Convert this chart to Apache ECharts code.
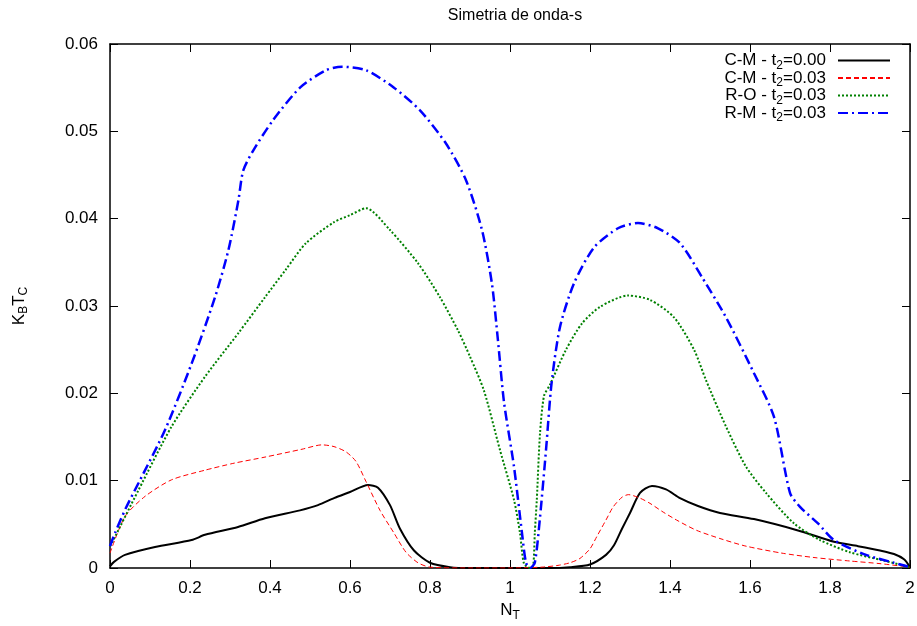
<!DOCTYPE html>
<html>
<head>
<meta charset="utf-8">
<script src="https://cdn.jsdelivr.net/npm/echarts@6/dist/echarts.min.js"></script>
<style>
html,body{margin:0;padding:0;background:#fff;}
#c{width:917px;height:626px;}
</style>
</head>
<body>
<div id="c"></div>
<script>
var titleText = 'Simetria de onda-s';
var xTickLabels = ['0','0.2','0.4','0.6','0.8','1','1.2','1.4','1.6','1.8','2'];
var yTickLabels = ['0','0.01','0.02','0.03','0.04','0.05','0.06'];
var seriesNames = ['C-M - t2=0.00','C-M - t2=0.03','R-O - t2=0.03','R-M - t2=0.03'];

var cm000 = [[0,0.0002],[0.01,0.0007],[0.0375,0.0015],[0.1125,0.0024],[0.204,0.0032],[0.2375,0.0038],[0.32,0.0047],[0.3875,0.0057],[0.475,0.0066],[0.52,0.0072],[0.56,0.008],[0.6,0.0087],[0.645,0.0095],[0.67,0.0092],[0.70,0.0072],[0.725,0.0045],[0.76,0.002],[0.80,0.0006],[0.85,0.0001],[0.9,0],[1.0,0],[1.1,0],[1.15,0.0001],[1.2,0.0004],[1.24,0.0015],[1.26,0.0026],[1.28,0.0045],[1.3,0.0063],[1.325,0.0086],[1.355,0.0094],[1.39,0.009],[1.425,0.0080],[1.47,0.0071],[1.525,0.0063],[1.61,0.0056],[1.72,0.0043],[1.81,0.003],[1.87,0.0025],[1.925,0.002],[1.96,0.0016],[1.985,0.001],[2.0,0.0001]];

var cm003 = [[0,0.0017],[0.0375,0.0059],[0.0875,0.0082],[0.154,0.0101],[0.2375,0.0112],[0.31,0.012],[0.3875,0.0127],[0.48,0.0136],[0.53,0.0141],[0.56,0.0139],[0.59,0.0133],[0.615,0.0122],[0.64,0.0099],[0.675,0.0066],[0.71,0.004],[0.74,0.0018],[0.77,0.0006],[0.8,0.0001],[0.9,0],[1.0,0],[1.08,0.0001],[1.12,0.0003],[1.15,0.0006],[1.175,0.0011],[1.2,0.0022],[1.217,0.0036],[1.24,0.0055],[1.258,0.007],[1.28,0.0081],[1.296,0.0084],[1.325,0.008],[1.35,0.0074],[1.383,0.0064],[1.42,0.0054],[1.467,0.0043],[1.53,0.0033],[1.59,0.0025],[1.68,0.0017],[1.76,0.0012],[1.85,0.0008],[1.925,0.0005],[2.0,0.0001]];

var ro003 = [[0,0.0025],[0.004,0.0028],[0.071,0.0089],[0.154,0.0162],[0.2375,0.0219],[0.321,0.0269],[0.3875,0.031],[0.44,0.0342],[0.49,0.0372],[0.56,0.0396],[0.6,0.0404],[0.64,0.0412],[0.7,0.0387],[0.77,0.0349],[0.825,0.031],[0.87,0.0272],[0.9,0.0242],[0.935,0.0203],[0.975,0.0135],[1.01,0.0078],[1.025,0.004],[1.035,0.0005],[1.05,0],[1.058,0.0003],[1.062,0.004],[1.067,0.0078],[1.075,0.0154],[1.085,0.0197],[1.1,0.021],[1.14,0.025],[1.18,0.028],[1.225,0.0299],[1.295,0.0312],[1.35,0.0307],[1.41,0.0287],[1.46,0.025],[1.49,0.0215],[1.54,0.0162],[1.59,0.0116],[1.64,0.0086],[1.71,0.0051],[1.775,0.0032],[1.85,0.0018],[1.93,0.0009],[2.0,0.0001]];

var rm003 = [[0,0.0025],[0.0125,0.004],[0.04,0.0069],[0.071,0.0097],[0.1375,0.0158],[0.204,0.0234],[0.2625,0.031],[0.296,0.0364],[0.321,0.0421],[0.333,0.0455],[0.358,0.0478],[0.408,0.0513],[0.475,0.055],[0.54,0.057],[0.58,0.0574],[0.64,0.057],[0.71,0.055],[0.775,0.0524],[0.84,0.0486],[0.89,0.0444],[0.93,0.0387],[0.955,0.0325],[0.97,0.026],[0.985,0.019],[1.01,0.0116],[1.03,0.004],[1.04,0.0006],[1.05,0],[1.062,0.0006],[1.075,0.0058],[1.09,0.0135],[1.104,0.0212],[1.125,0.0276],[1.16,0.0326],[1.21,0.0367],[1.27,0.0389],[1.32,0.0395],[1.37,0.0389],[1.425,0.0372],[1.48,0.0333],[1.54,0.0287],[1.61,0.0223],[1.66,0.0173],[1.70,0.0086],[1.725,0.007],[1.77,0.0051],[1.81,0.0032],[1.89,0.0015],[1.96,0.0006],[2.0,0.0001]];

var FONT = '"Liberation Sans", Arial, Helvetica, sans-serif';
var richSub = {
  n: {fontSize: 17, fontFamily: FONT, color: '#000', lineHeight: 22},
  s: {fontSize: 12, fontFamily: FONT, color: '#000', lineHeight: 10, verticalAlign: 'bottom'}
};
function subText(name) {
  var m = name.match(/^(.*t)2(=.*)$/);
  if (!m) return '{n|' + name + '}';
  return '{n|' + m[1] + '}{s|2}{n|' + m[2] + '}';
}

var chart = echarts.init(document.getElementById('c'), null, {renderer: 'canvas'});
var axisLineStyle = {color: '#000', width: 1.5};
function xAxisCfg(pos, showLabel) {
  return {
    type: 'value', position: pos, min: 0, max: 2, interval: 0.2,
    axisLine: {show: true, onZero: false, lineStyle: axisLineStyle},
    axisTick: {show: true, inside: true, length: 8, lineStyle: {color: '#000', width: 1}},
    axisLabel: {show: showLabel, color: '#000', fontSize: 17, fontFamily: FONT, margin: 12,
      formatter: function (v) { return xTickLabels[Math.round(v / 0.2)]; }},
    splitLine: {show: false}
  };
}
function yAxisCfg(pos, showLabel) {
  return {
    type: 'value', position: pos, min: 0, max: 0.06, interval: 0.01,
    axisLine: {show: true, onZero: false, lineStyle: axisLineStyle},
    axisTick: {show: true, inside: true, length: 8, lineStyle: {color: '#000', width: 1}},
    axisLabel: {show: showLabel, color: '#000', fontSize: 17, fontFamily: FONT, margin: 12,
      formatter: function (v) { return yTickLabels[Math.round(v / 0.01)]; }},
    splitLine: {show: false}
  };
}
var xa = xAxisCfg('bottom', true);
xa.name = '{n|N}{s|T}';
xa.nameLocation = 'middle';
xa.nameGap = 31;
xa.nameTextStyle = {rich: richSub};
var ya = yAxisCfg('left', true);
ya.name = '{n|K}{s|B}{n|T}{s|C}';
ya.nameLocation = 'middle';
ya.nameGap = 80;
ya.nameTextStyle = {rich: richSub};

function lineSeries(name, data, color, width, type) {
  return {
    name: name, type: 'line', data: data, xAxisIndex: 0, yAxisIndex: 0,
    showSymbol: false, symbol: 'none', smooth: 0.25,
    lineStyle: {color: color, width: width, type: type},
    itemStyle: {color: color},
    emphasis: {disabled: true}
  };
}

chart.setOption({
  animation: false,
  backgroundColor: '#fff',
  title: {
    text: titleText, left: 510, top: 3, textAlign: 'center',
    textStyle: {fontSize: 16, fontWeight: 'normal', color: '#000', fontFamily: FONT}
  },
  grid: {left: 110, right: 7, top: 44, bottom: 58, containLabel: false, outerBoundsMode: 'none'},
  xAxis: [xa, xAxisCfg('top', false)],
  yAxis: [ya, yAxisCfg('right', false)],
  legend: {
    orient: 'vertical', right: 26, top: 52, align: 'right', padding: 0,
    itemWidth: 52, itemHeight: 10, itemGap: -2,
    data: seriesNames,
    itemStyle: {opacity: 0, borderWidth: 0},
    formatter: function (name) { return subText(name); },
    textStyle: {rich: richSub, padding: [0, 7, 0, 0]},
    selectedMode: false
  },
  series: [
    lineSeries(seriesNames[0], cm000, '#000000', 2, 'solid'),
    lineSeries(seriesNames[1], cm003, '#ff0000', 1, [5, 3]),
    lineSeries(seriesNames[2], ro003, '#008000', 2, [2, 2]),
    lineSeries(seriesNames[3], rm003, '#0000ff', 2.5, [10, 4, 2, 4])
  ]
});
</script>
</body>
</html>
